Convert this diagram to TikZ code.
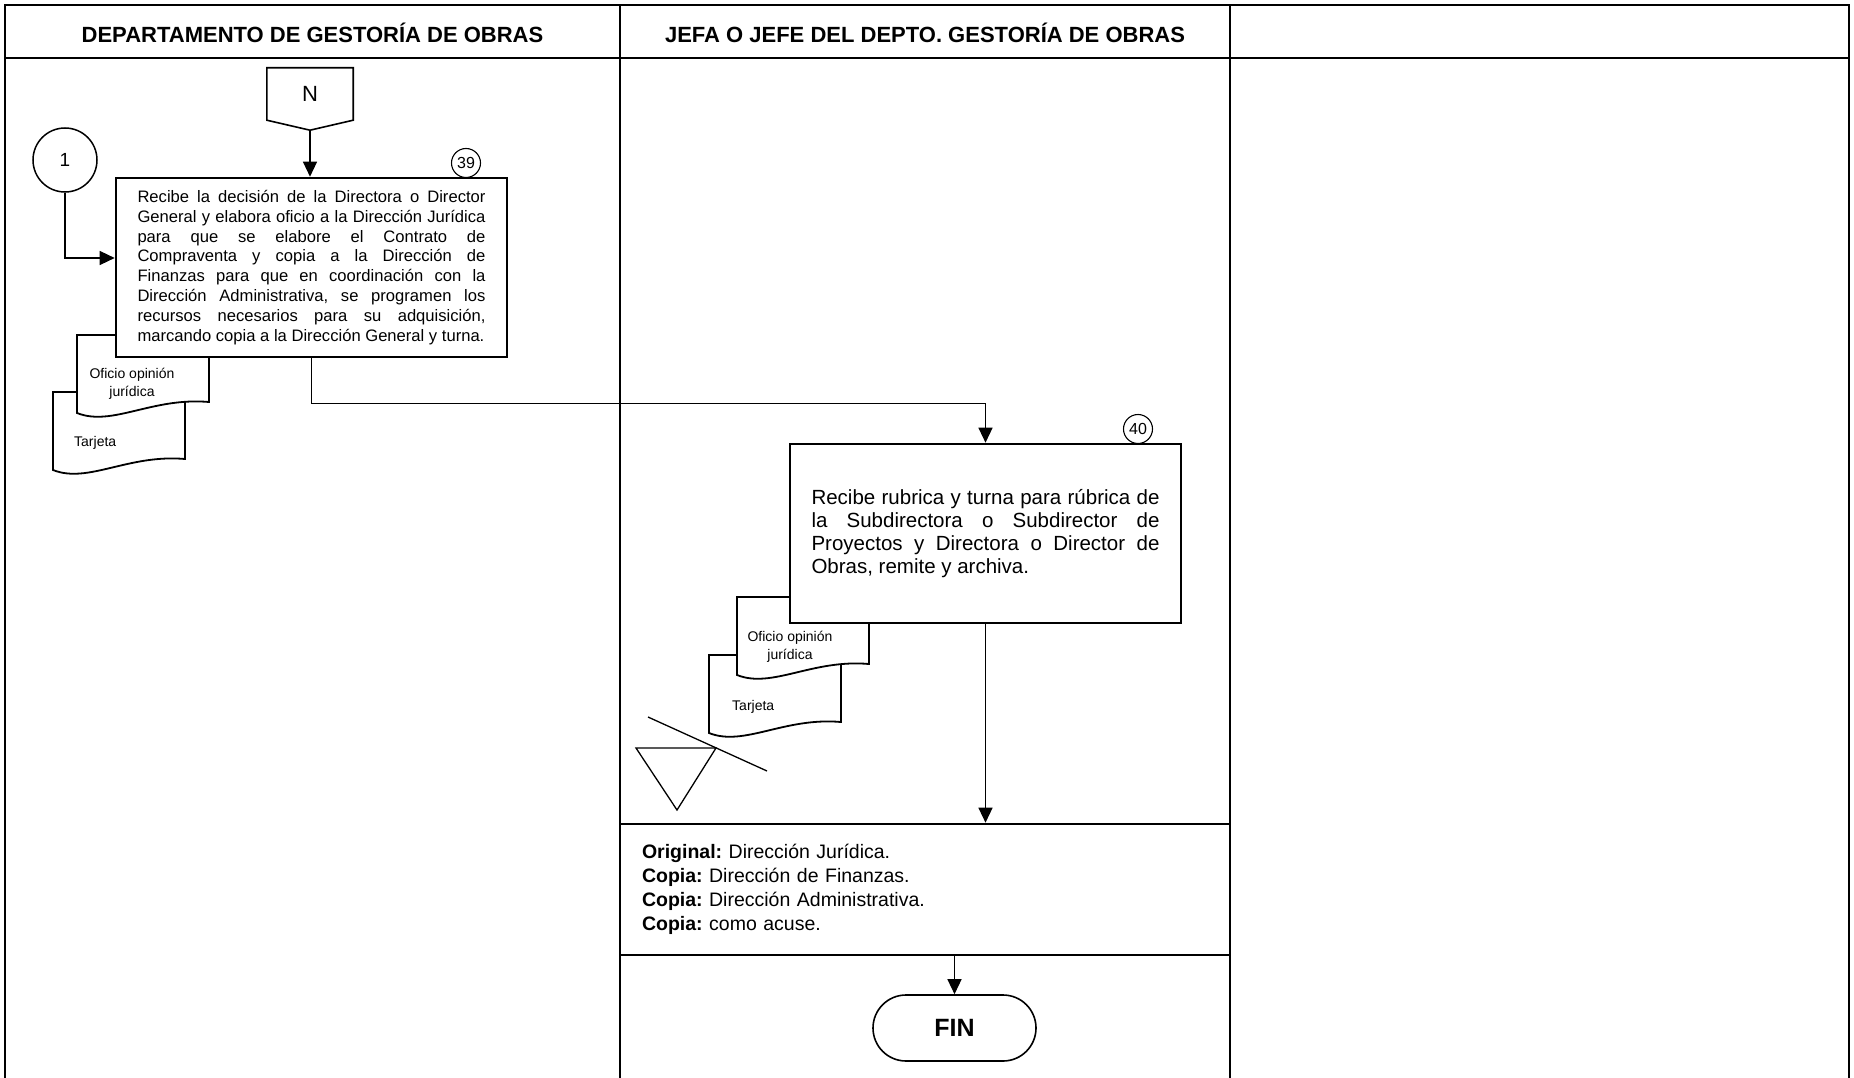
\documentclass[tikz,border=0pt]{standalone}
\usepackage{fontspec}
\setmainfont{Liberation Sans}
\usepackage{tikz}
\usetikzlibrary{arrows.meta, calc}
\tolerance=10000
\hbadness=10000
\frenchspacing

\begin{document}
\begin{tikzpicture}[
    x=1pt, y=-1pt,
    header/.style={font=\fontsize{22}{26}\selectfont\bfseries},
    process/.style={
        draw, rectangle, line width=2.6pt, fill=white,
        minimum width=391pt, minimum height=179pt, inner sep=0pt,
        text width=348pt, align=justify
    },
    copybox/.style={
        draw, rectangle, line width=2.6pt, fill=white,
        minimum width=610pt, minimum height=131pt, inner sep=0pt,
        text width=566pt, align=left, font=\fontsize{19.5}{24}\selectfont
    },
    stepnum/.style={draw, circle, line width=1.1pt, minimum size=29pt,
        inner sep=0pt, font=\fontsize{16}{16}\selectfont},
    connector/.style={draw, circle, line width=1.5pt, minimum size=64pt,
        inner sep=0pt, font=\fontsize{19}{19}\selectfont},
    pageref/.style={inner sep=0pt, minimum width=86pt, minimum height=52pt,
        font=\fontsize{22}{22}\selectfont},
    terminal/.style={draw, rectangle, line width=1.6pt, rounded corners=33pt,
        minimum width=163pt, minimum height=66pt,
        font=\fontsize{25}{25}\selectfont\bfseries},
    doctext/.style={font=\fontsize{14}{18}\selectfont, align=center, inner sep=0pt},
    flow/.style={-{Triangle[length=15pt, width=14pt]}, line width=1.3pt},
    docsheet/.pic={
        \draw[fill=white, line width=1.8pt] (0,0) -- (132,0) -- (132,67)
            .. controls (75,62) and (35,92) .. (0,78) -- cycle;
    }
]

\useasboundingbox (0,0) rectangle (1854,1078);

\draw[line width=2.6pt] (5,1078) -- (5,5) -- (1849,5) -- (1849,1078);
\draw[line width=2pt] (5,58) -- (1849,58);
\draw[line width=1.5pt] (620,5) -- (620,1078) (1230,5) -- (1230,1078);

\node[header] (hdrA) at (312.5,33) {DEPARTAMENTO DE GESTORÍA DE OBRAS};
\node[header] (hdrB) at (925,33)   {JEFA O JEFE DEL DEPTO. GESTORÍA DE OBRAS};

\pic at (53,392) {docsheet};
\node[doctext, anchor=west] (tarjA) at (74,443) {Tarjeta};
\pic at (77,335) {docsheet};
\node[doctext] (oficioA) at (132,384) {Oficio opinión\\jurídica};

\pic at (709,655) {docsheet};
\node[doctext, anchor=west] (tarjB) at (732,707) {Tarjeta};
\pic at (737,597) {docsheet};
\node[doctext] (oficioB) at (790,647) {Oficio opinión\\jurídica};

\node[pageref] (pageN) at (310,94) {N};
\draw[line width=1.6pt] (pageN.north west) -- (pageN.north east) -- (pageN.south east)
    -- ($(pageN.south)+(0,10)$) -- (pageN.south west) -- cycle;
\coordinate (tipN) at ($(pageN.south)+(0,10)$);

\node[connector] (c1) at (65,160) {1};

\node[process, font=\fontsize{16.6}{19.8}\selectfont] (b39) at (311.5,267.5) {Recibe la decisión de la Directora o Director\linebreak
General y elabora oficio a la Dirección Jurídica\linebreak
para que se elabore el Contrato de\linebreak
Compraventa y copia a la Dirección de\linebreak
Finanzas para que en coordinación con la\linebreak
Dirección Administrativa, se programen los\linebreak
recursos necesarios para su adquisición,\linebreak
marcando copia a la Dirección General y turna.};
\node[stepnum] (n39) at (466,163) {39};

\node[process, font=\fontsize{20.5}{23}\selectfont] (b40) at (985.5,533.5) {Recibe rubrica y turna para rúbrica de\linebreak
la Subdirectora o Subdirector de\linebreak
Proyectos y Directora o Director de\linebreak
Obras, remite y archiva.};
\node[stepnum] (n40) at (1138,429) {40};

\draw[line width=1.3pt] (636,748) -- (716,748) -- (677,810) -- cycle;
\draw[line width=1.3pt] (648,717) -- (767,771);

\node[copybox] (copias) at (925,889.5) {\textbf{Original:} Dirección Jurídica.\\
\textbf{Copia:} Dirección de Finanzas.\\
\textbf{Copia:} Dirección Administrativa.\\
\textbf{Copia:} como acuse.};

\node[terminal] (fin) at (954.5,1028) {FIN};

\draw[flow] (tipN) -- (tipN |- b39.north);
\draw[flow] (c1.south) |- ($(b39.west)+(0,-9.5)$);
\draw[flow] (b39.south) -- ++(0,45) -| (b40.north);
\draw[flow] (b40.south) -- (b40.south |- copias.north);
\draw[flow] (fin.north |- copias.south) -- (fin.north);

\end{tikzpicture}
\end{document}
